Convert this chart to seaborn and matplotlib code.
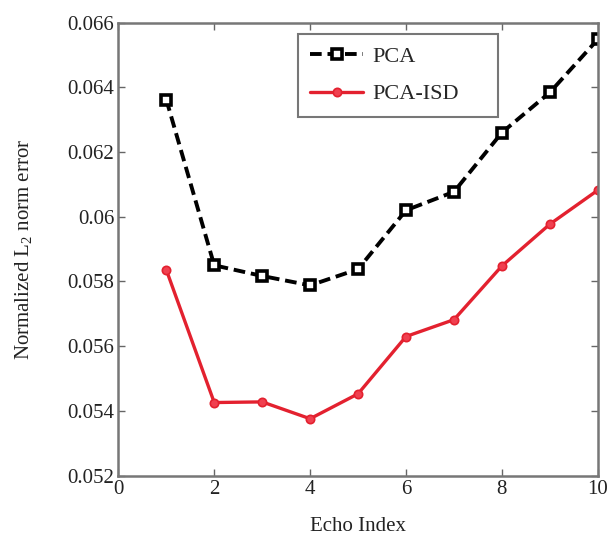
import matplotlib
matplotlib.use("Agg")
import matplotlib.pyplot as plt
import seaborn as sns
import pandas as pd

# Values
echo_index = [1, 2, 3, 4, 5, 6, 7, 8, 9, 10]
pca_error = [0.06362, 0.05850, 0.05817, 0.05788, 0.05838,
             0.06020, 0.06077, 0.06260, 0.06384, 0.06548]
pca_isd_error = [0.05836, 0.05426, 0.05428, 0.05376, 0.05453,
                 0.05630, 0.05682, 0.05848, 0.05977, 0.06082]

x_ticks = [0, 2, 4, 6, 8, 10]
y_ticks = [0.052, 0.054, 0.056, 0.058, 0.060, 0.062, 0.064, 0.066]
y_tick_labels = ["0.052", "0.054", "0.056", "0.058", "0.06", "0.062", "0.064", "0.066"]

df = pd.DataFrame({"Echo Index": echo_index, "PCA": pca_error, "PCA-ISD": pca_isd_error})

sns.set_style("ticks")
plt.rcParams["font.family"] = ["Liberation Serif", "DejaVu Serif"]
plt.rcParams["mathtext.fontset"] = "custom"
plt.rcParams["mathtext.rm"] = "Liberation Serif"
plt.rcParams["mathtext.it"] = "Liberation Serif:italic"

fig = plt.figure(figsize=(6.1, 5.36), dpi=100)
ax = fig.add_axes([0.194, 0.1125, 0.786, 0.8455])

sns.lineplot(data=df, x="Echo Index", y="PCA", ax=ax, color="black",
             linestyle=(0, (3.0, 1.5)), linewidth=2.8, marker="s", markersize=6.5,
             markerfacecolor="white", markeredgecolor="black", markeredgewidth=2.6,
             label="PCA")
sns.lineplot(data=df, x="Echo Index", y="PCA-ISD", ax=ax, color="#e3212f",
             linewidth=2.4, marker="o", markersize=6,
             markerfacecolor="#f04050", markeredgecolor="#e3212f", markeredgewidth=1.2,
             label="PCA-ISD")

ax.set_xlim(0, 10)
ax.set_ylim(0.052, 0.066)
ax.set_xticks(x_ticks)
ax.set_xticklabels([str(t) for t in x_ticks])
ax.set_yticks(y_ticks)
ax.set_yticklabels(y_tick_labels)
ax.tick_params(direction="in", top=True, right=True, length=5, width=1,
               color="#666666", labelsize=15, labelcolor="#222222", pad=3)
for side in ax.spines.values():
    side.set_visible(True)
    side.set_color("#777777")
    side.set_linewidth(1.8)

ax.set_xlabel("Echo Index", fontsize=15, color="#222222", labelpad=13)
ax.set_ylabel("Normalized L$_2$ norm error", fontsize=15, color="#222222", labelpad=24)

leg = ax.legend(loc="upper left", bbox_to_anchor=(0.374, 0.79, 0.418, 0.184),
                mode="expand", fontsize=16, frameon=True, fancybox=False,
                handlelength=2.4, borderpad=0.55, labelspacing=0.75,
                handletextpad=0.4, borderaxespad=0)
leg.get_frame().set_edgecolor("#555555")
leg.get_frame().set_linewidth(1.5)

fig.savefig("out.png", dpi=100, facecolor="white")
